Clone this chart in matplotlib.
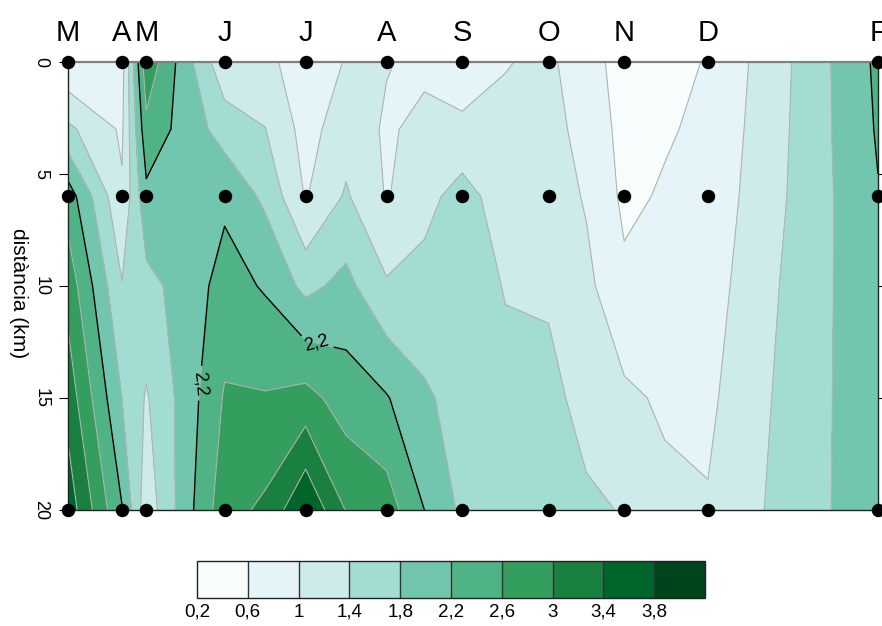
import numpy as np
import matplotlib.pyplot as plt

plt.rcParams['font.family'] = ['Liberation Sans', 'DejaVu Sans']

# campanyes de mostreig (dies des de l'inici de març) i inicial del mes
dies_mostres = [0, 20, 29, 58, 88, 118, 146, 178, 206, 237, 300]
mesos = ['M', 'A', 'M', 'J', 'J', 'A', 'S', 'O', 'N', 'D', 'F']
dist_mostres = [0, 6, 20]

# malla del camp interpolat (dies i km)
dies_malla = [0, 20, 29, 43, 58, 73, 88, 103, 118, 132, 146, 162, 178,
              192, 206, 221, 237, 268, 300]
dist_malla = [0, 3, 6, 10, 15, 20]

camp_0km = [0.62, 0.85, 2.90, 2.00, 1.10, 1.10, 0.80, 1.02, 1.02, 0.92,
            0.67, 0.98, 1.08, 0.75, 0.45, 0.50, 0.62, 1.40, 2.28]
camp_3km = [1.49, 0.94, 2.48, 2.05, 1.63, 1.41, 0.85, 1.22, 0.95, 1.10,
            1.12, 1.10, 1.15, 0.85, 0.48, 0.56, 0.68, 1.42, 2.24]
camp_6km = [2.41, 1.05, 2.10, 1.95, 2.12, 1.72, 0.97, 1.45, 0.97, 1.28,
            1.55, 1.20, 1.22, 0.96, 0.52, 0.64, 0.74, 1.44, 2.18]
camp_10km = [2.85, 1.42, 1.68, 1.95, 2.36, 2.16, 1.69, 1.92, 1.45, 1.53,
             1.60, 1.38, 1.35, 1.10, 0.68, 0.72, 0.82, 1.50, 2.12]
camp_15km = [3.24, 1.80, 1.36, 1.95, 2.64, 2.63, 2.74, 2.41, 2.23, 1.86,
             1.65, 1.50, 1.50, 1.28, 1.08, 0.94, 0.92, 1.55, 2.08]
camp_20km = [3.64, 2.22, 1.15, 2.00, 2.85, 3.08, 3.78, 2.98, 2.80, 2.20,
             1.72, 1.55, 1.60, 1.46, 1.38, 1.10, 1.03, 1.58, 2.06]

nivells = [0.2, 0.6, 1.0, 1.4, 1.8, 2.2, 2.6, 3.0, 3.4, 3.8, 4.2]
colors = ['#f7fcfd', '#e5f4f8', '#cdebeb', '#a3dcd3', '#72c6ae',
          '#50b385', '#349e5e', '#1a8040', '#00652a', '#00441b']

X, Y = np.meshgrid(dies_malla, dist_malla)
Z = np.array([camp_0km, camp_3km, camp_6km, camp_10km, camp_15km, camp_20km])

fig = plt.figure(figsize=(8.82, 6.26), dpi=100)
ax = fig.add_axes([68 / 882, 1 - 510 / 626, 810 / 882, 448 / 626])

cf = ax.contourf(X, Y, Z, levels=nivells, colors=colors)
ax.contour(X, Y, Z, levels=nivells, colors='#b3b3b3', linewidths=0.8)
cs = ax.contour(X, Y, Z, levels=[2.2], colors='black', linewidths=1.0)
ax.clabel(cs, fmt={2.2: '2,2'}, fontsize=13, inline=True,
          manual=[(92, 12.6), (45, 14.3)])

# punts de mostreig
Xm, Ym = np.meshgrid(dies_mostres, dist_mostres)
ax.scatter(Xm.ravel(), Ym.ravel(), s=75, color='black', zorder=5,
           clip_on=False)

ax.set_xlim(0, 300)
ax.set_ylim(20, 0)

ax.xaxis.tick_top()
ax.set_xticks(dies_mostres)
ax.set_xticklabels(mesos)
ax.tick_params(axis='x', length=0, labelsize=21, pad=11)

ax.set_yticks([0, 5, 10, 15, 20])
ax.set_yticklabels(['0', '5', '10', '15', '20'], rotation=270, va='center')
ax.tick_params(axis='y', direction='out', length=6.5, labelsize=13, pad=7,
               right=True)
ax.set_ylabel('distància (km)', rotation=270, va='center', fontsize=15)
ax.yaxis.set_label_coords(-50 / 810, 217 / 448)

ax.spines['top'].set_color('#808080')
ax.spines['top'].set_linewidth(1.6)
for s in ['left', 'bottom', 'right']:
    ax.spines[s].set_color('#222222')
    ax.spines[s].set_linewidth(1.0)

# escala de colors
cax = fig.add_axes([197 / 882, 1 - 598 / 626, 508 / 882, 37 / 626])
cb = fig.colorbar(cf, cax=cax, orientation='horizontal', drawedges=True,
                  ticks=nivells[:-1])
cb.set_ticklabels([f'{v:g}'.replace('.', ',') for v in nivells[:-1]])
cb.ax.tick_params(length=0, labelsize=13.5, pad=4)
cb.dividers.set_color('#333333')
cb.dividers.set_linewidth(1.0)
cb.outline.set_edgecolor('#222222')
cb.outline.set_linewidth(1.0)

fig.savefig('out.png', dpi=100)
